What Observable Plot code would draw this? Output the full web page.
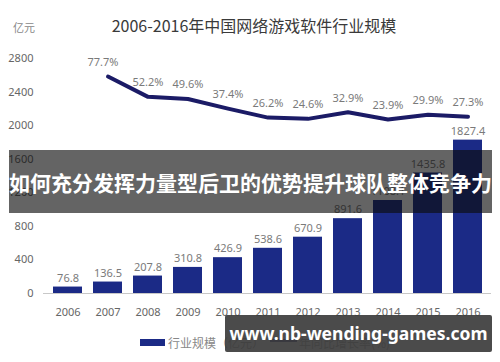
<!DOCTYPE html>
<html><head><meta charset="utf-8">
<script src="https://cdn.jsdelivr.net/npm/d3@7"></script>
<script src="https://cdn.jsdelivr.net/npm/@observablehq/plot@0.6"></script>
<style>
html,body{margin:0;padding:0;background:#fff;}
#wrap{position:relative;width:500px;height:362px;overflow:hidden;font-family:"Noto Sans CJK SC","Noto Sans",sans-serif;}
#chart{position:absolute;left:0;top:0;}
.abs{position:absolute;white-space:nowrap;}
</style></head>
<body>
<div id="wrap">
  <div id="chart"></div>
  <div class="abs" style="left:0;width:508px;top:13px;text-align:center;font-size:16px;color:#3a3a3a;">2006-2016年中国网络游戏软件行业规模</div>
  <div class="abs" style="left:13px;top:19px;font-size:11px;color:#888;">亿元</div>
  <div class="abs" style="left:140px;top:339px;width:25px;height:7px;background:#1b2a86;"></div>
  <div class="abs" style="left:168px;top:334px;font-size:12px;color:#888;">行业规模（亿元）</div>
  <div class="abs" style="left:270px;top:339px;width:27px;height:3px;background:#1b1b66;"></div>
  <div class="abs" style="left:299px;top:334px;font-size:12px;color:#888;">年同比增长率(%)</div>
  <div class="abs" style="left:9px;top:150px;width:483px;height:63px;background:rgba(12,12,12,0.64);"></div>
  <div class="abs" style="left:9px;top:167px;font-size:21px;line-height:30px;font-weight:700;color:#fff;">如何充分发挥力量型后卫的优势提升球队整体竞争力</div>
  <div class="abs" style="left:225px;top:315px;width:267px;height:37px;background:rgba(60,60,60,0.92);border-radius:2px;"></div>
  <div class="abs" style="left:227px;top:315px;width:263px;height:37px;line-height:37px;text-align:center;font-family:'Noto Sans','Open Sans',sans-serif;font-size:17.5px;font-weight:700;color:#fff;">www.nb-wending-games.com</div>
</div>
<script>
const years = ["2006","2007","2008","2009","2010","2011","2012","2013","2014","2015","2016"];
const scaleValues = [76.8,136.5,207.8,310.8,426.9,538.6,670.9,891.6,1108.1,1435.8,1827.4];
const rateYears = ["2007","2008","2009","2010","2011","2012","2013","2014","2015","2016"];
const rateValues = [77.7,52.2,49.6,37.4,26.2,24.6,32.9,23.9,29.9,27.3];
const yTicks = [0,400,800,1200,1600,2000,2400,2800];
const rateLabels = rateValues.map(v => v.toFixed(1) + "%");

// secondary (hidden) axis for growth rate, mapped onto the left axis units
const rateAxis = d3.scaleLinear().domain([0, 100]).range([1847, 2797]);

const bars = years.map((y, i) => ({year: y, value: scaleValues[i]}));
const rates = rateYears.map((y, i) => ({year: y, rate: rateValues[i], label: rateLabels[i], y2: rateAxis(rateValues[i])}));

const gray = "#7a7a7a";
const chart = Plot.plot({
  width: 500,
  height: 362,
  marginTop: 58,
  marginBottom: 69,
  marginLeft: 43,
  marginRight: 9,
  style: {fontFamily: "'Noto Sans','Noto Sans CJK SC',sans-serif", fontSize: "11px", color: gray, background: "transparent"},
  x: {domain: years, paddingInner: 0.2875, paddingOuter: 0.147, label: null},
  y: {domain: [0, 2800], label: null},
  marks: [
    Plot.barY(bars, {x: "year", y: "value", fill: "#1b2a86"}),
    Plot.ruleY([0], {stroke: "#c8c8c8", strokeWidth: 1}),
    Plot.ruleX([0], {frameAnchor: "left", y1: 0, y2: 2800, stroke: "#9a9a9a", strokeWidth: 1}),
    Plot.text(bars, {x: "year", y: "value", text: d => d.value.toFixed(1), dy: -9, fill: gray, fontSize: 11}),
    Plot.line(rates, {x: "year", y: "y2", stroke: "#1b1b66", strokeWidth: 4, strokeLinejoin: "round", strokeLinecap: "round"}),
    Plot.text(rates.slice(0, 1), {x: "year", y: "y2", text: "label", dy: -14, dx: -5, fill: gray, fontSize: 11}),
    Plot.text(rates.slice(1), {x: "year", y: "y2", text: "label", dy: -14, fill: gray, fontSize: 11}),
    Plot.axisY({ticks: yTicks, tickSize: 0, tickPadding: 10, tickFormat: d => String(d), fontSize: 11, fill: "#666"}),
    Plot.axisX({tickSize: 0, tickPadding: 15, fontSize: 11, fill: "#666"})
  ]
});
document.getElementById("chart").appendChild(chart);
</script>
</body></html>
